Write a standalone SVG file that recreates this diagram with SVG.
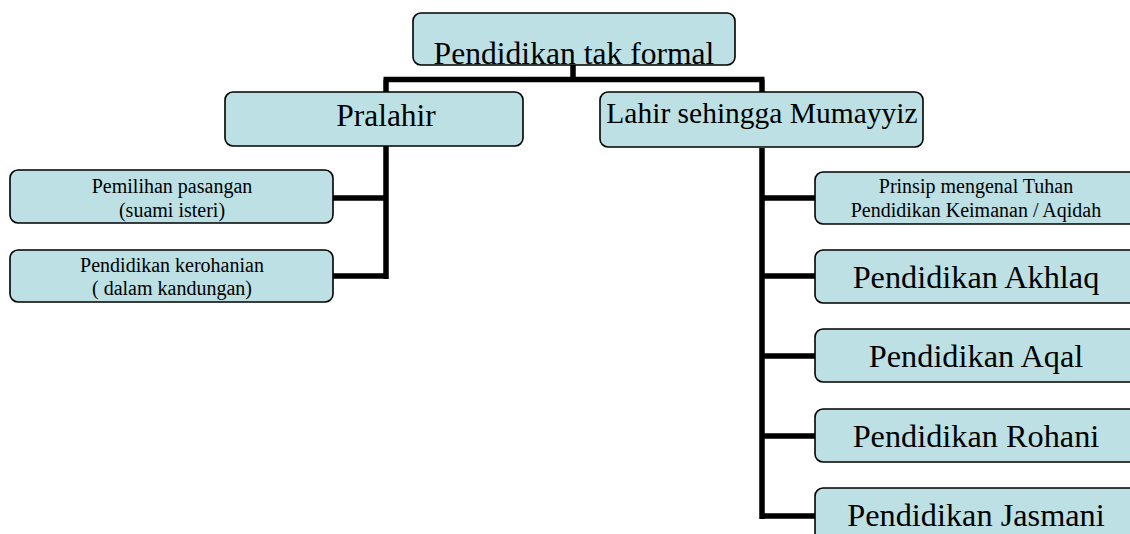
<svg xmlns="http://www.w3.org/2000/svg" width="1130" height="534" viewBox="0 0 1130 534">
<style>
.box{fill:#BCE0E3;stroke:#000;stroke-width:1.6}
.t{font-family:"Liberation Serif","Times New Roman",serif;fill:#000;text-anchor:middle}
.big{font-size:30px}
.mid{font-size:32.3px}
.sm{font-size:20px}
.con{stroke:#000;stroke-width:5.5;fill:none;stroke-linecap:butt}
</style>
<rect width="1130" height="534" fill="#fff"/>
<g id="connectors">
<path class="con" d="M573 65V79.5M383.5 79.5H764.5M386 79.5V92M762 79.5V92"/>
<path class="con" d="M386 146V279M333 198H388.5M333 276H388.5"/>
<path class="con" d="M762 148V519M759.5 198H815M759.5 276H815M759.5 356H815M759.5 436H815M759.5 516H815"/>
</g>
<g id="n-top"><rect class="box" x="413" y="13" width="322" height="52" rx="8"/><text class="t" style="font-size:31.6px" x="574" y="64">Pendidikan tak formal</text></g>
<g id="n-pralahir"><rect class="box" x="225" y="92" width="298" height="54" rx="8"/><text class="t" style="font-size:31.5px" x="386" y="126">Pralahir</text></g>
<g id="n-lahir"><rect class="box" x="600" y="92" width="323" height="55" rx="8"/><text class="t" style="font-size:29.5px" x="762" y="123">Lahir sehingga Mumayyiz</text></g>
<g id="n-pemilihan"><rect class="box" x="10" y="170" width="323" height="53" rx="8"/><text class="t sm" x="172" y="193">Pemilihan pasangan</text><text class="t sm" x="172" y="217">(suami isteri)</text></g>
<g id="n-kerohanian"><rect class="box" x="10" y="250" width="323" height="52" rx="8"/><text class="t sm" x="172" y="272">Pendidikan kerohanian</text><text class="t sm" x="172" y="295">( dalam kandungan)</text></g>
<g id="n-aqidah"><rect class="box" x="815" y="172" width="330" height="52" rx="8"/><text class="t sm" x="976" y="193">Prinsip mengenal Tuhan</text><text class="t sm" x="976" y="217">Pendidikan Keimanan / Aqidah</text></g>
<g id="n-akhlaq"><rect class="box" x="815" y="250" width="330" height="53" rx="8"/><text class="t mid" x="976" y="288">Pendidikan Akhlaq</text></g>
<g id="n-aqal"><rect class="box" x="815" y="329" width="330" height="53" rx="8"/><text class="t mid" x="976" y="367">Pendidikan Aqal</text></g>
<g id="n-rohani"><rect class="box" x="815" y="409" width="330" height="53" rx="8"/><text class="t mid" x="976" y="447">Pendidikan Rohani</text></g>
<g id="n-jasmani"><rect class="box" x="815" y="488" width="330" height="60" rx="8"/><text class="t mid" x="976" y="526">Pendidikan Jasmani</text></g>
</svg>
